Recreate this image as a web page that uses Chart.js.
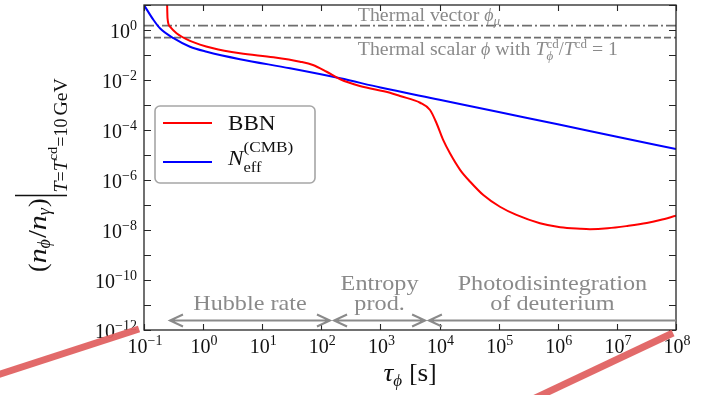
<!DOCTYPE html>
<html><head><meta charset="utf-8">
<script src="https://cdn.jsdelivr.net/npm/chart.js@4.4.1/dist/chart.umd.min.js"></script>
<style>html,body{margin:0;padding:0;background:#fff}#wrap{width:702px;height:395px}</style>
</head><body><div id="wrap"><canvas id="c" width="702" height="395"></canvas></div>
<script>
// Lifetime tau_phi [s] and relic abundance n_phi/n_gamma for the BBN bound
const tauBBN = [0.245, 0.25, 0.275, 0.355, 0.6, 1.48, 4.2, 15.5, 43.6, 72, 123, 209, 447, 1450, 2140, 4700, 6900, 8900, 1.15e4, 1.5e4, 2.24e4, 3.3e4, 5.5e4, 1.05e5, 2.0e5, 5.0e5, 1.1e6, 2.4e6, 3.5e6, 7e6, 1.5e7, 3.2e7, 5.4e7, 1e8];
const ratioBBN = [16, 3.0, 1.35, 0.74, 0.37, 0.186, 0.117, 0.081, 0.054, 0.040, 0.0214, 0.0107, 5.75e-3, 3.1e-3, 2.3e-3, 1.23e-3, 6.3e-4, 1.86e-4, 4.0e-5, 1.17e-5, 2.5e-6, 8.5e-7, 2.5e-7, 8.5e-8, 4.0e-8, 1.86e-8, 1.29e-8, 1.12e-8, 1.08e-8, 1.17e-8, 1.45e-8, 1.9e-8, 2.5e-8, 3.7e-8];
// Same for the CMB N_eff bound
const tauCMB = [0.1, 0.145, 0.186, 0.316, 0.6, 1.15, 4.2, 29.5, 209, 1000, 1e4, 1e5, 1e6, 1e7, 1e8];
const ratioCMB = [10, 2.5, 1.17, 0.47, 0.214, 0.135, 0.068, 0.0295, 0.0117, 5.0e-3, 1.62e-3, 5.2e-4, 1.7e-4, 5.4e-5, 1.74e-5];
// Thermal abundances
const thermalVector = 1.5;
const thermalScalar = 0.5;
// Axis ranges and ticks (exponents of ten)
const xRange = [0.1, 1e8];
const yRange = [1e-12, 10];
const xTickExps = [-1, 0, 1, 2, 3, 4, 5, 6, 7, 8];
const yTickExps = [1, 0, -1, -2, -3, -4, -5, -6, -7, -8, -9, -10, -11, -12];
const yLabelExps = [0, -2, -4, -6, -8, -10, -12];
// Lifetime regimes marked along the bottom
const regimeFrom = [0.275, 164, 6600];
const regimeTo = [140, 5700, 1e8];
const regimeText = [['Hubble rate'], ['Entropy', 'prod.'], ['Photodisintegration', 'of deuterium']];
const regimeRightHead = [true, true, false];
const regimeLevel = 2.4e-12;

const FAM = '"Liberation Serif", "DejaVu Serif", serif';
const GRAY = '#8a8a8a';
const PHI = '\u03D5';

function fontOf(r) { return (r.italic ? 'italic ' : '') + r.size + 'px ' + FAM; }
function runWidth(ctx, r) {
  if (r.stack) return Math.max(...r.stack.map(s => runWidth(ctx, s)));
  if (r.gap !== undefined) return r.gap;
  ctx.font = fontOf(r);
  return ctx.measureText(r.t).width * (r.sx || 1);
}
function drawRun(ctx, r, x, y) {
  if (r.stack) { r.stack.forEach(s => drawRun(ctx, s, x, y)); return; }
  if (r.bar) {
    ctx.save(); ctx.lineWidth = r.lw || 1.4; ctx.strokeStyle = ctx.fillStyle;
    ctx.beginPath(); ctx.moveTo(x + r.gap / 2, y + r.y0); ctx.lineTo(x + r.gap / 2, y + r.y1); ctx.stroke();
    ctx.restore(); return;
  }
  if (r.gap !== undefined) return;
  ctx.save();
  ctx.font = fontOf(r);
  ctx.translate(x, y + (r.dy || 0));
  ctx.scale(r.sx || 1, 1);
  ctx.textAlign = 'left'; ctx.textBaseline = 'alphabetic';
  ctx.fillText(r.t, 0, 0);
  ctx.restore();
}
function drawRuns(ctx, runs, x, y, align) {
  const w = runs.reduce((a, r) => a + runWidth(ctx, r), 0);
  let cx = align === 'center' ? x - w / 2 : align === 'right' ? x - w : x;
  for (const r of runs) { drawRun(ctx, r, cx, y); cx += runWidth(ctx, r); }
  return w;
}
function powerLabel(e) {
  return [{ t: '10', size: 20 }, { t: (e < 0 ? '\u2212' + (-e) : '' + e), size: 14, dy: -8 }];
}

const decorations = {
  id: 'decorations',
  beforeDatasetsDraw(chart) {
    const { ctx } = chart;
    ctx.save();
    ctx.fillStyle = '#fff';
    ctx.fillRect(0, 0, chart.width, chart.height);
    ctx.restore();
  },
  afterDatasetsDraw(chart) {
    const { ctx, chartArea: a, scales: { x, y } } = chart;
    ctx.save();
    // frame
    ctx.strokeStyle = '#262626'; ctx.lineWidth = 1.3;
    ctx.strokeRect(a.left, a.top, a.right - a.left, a.bottom - a.top);
    // inward ticks on all four sides
    ctx.lineWidth = 1.1;
    ctx.beginPath();
    for (const e of xTickExps) {
      const px = Math.round(x.getPixelForValue(Math.pow(10, e))) + 0.5;
      ctx.moveTo(px, a.bottom); ctx.lineTo(px, a.bottom - 6);
      ctx.moveTo(px, a.top); ctx.lineTo(px, a.top + 6);
    }
    for (const e of yTickExps) {
      const py = Math.round(y.getPixelForValue(Math.pow(10, e))) + 0.5;
      ctx.moveTo(a.left, py); ctx.lineTo(a.left + 7, py);
      ctx.moveTo(a.right, py); ctx.lineTo(a.right - 7, py);
    }
    ctx.stroke();
    // tick labels
    ctx.fillStyle = '#111';
    for (const e of xTickExps) {
      drawRuns(ctx, powerLabel(e), x.getPixelForValue(Math.pow(10, e)) + 1, a.bottom + 23, 'center');
    }
    for (const e of yLabelExps) {
      drawRuns(ctx, powerLabel(e), a.left - 7, y.getPixelForValue(Math.pow(10, e)) + 8, 'right');
    }
    // axis titles
    drawRuns(ctx, [
      { t: '\u03C4', size: 25, italic: true, sx: 1.1 },
      { t: PHI, size: 17, italic: true, dy: 5 },
      { gap: 7 },
      { t: '[', size: 25 }, { t: 's', size: 25, sx: 1.1 }, { t: ']', size: 25 }
    ], (a.left + a.right) / 2, 381, 'center');

    ctx.save();
    ctx.translate(46, 272);
    ctx.rotate(-Math.PI / 2);
    drawRuns(ctx, [
      { t: '(', size: 26 },
      { t: 'n', size: 26, italic: true, sx: 1.15 },
      { t: PHI, size: 18, italic: true, dy: 4 },
      { gap: 1 },
      { t: '/', size: 26, sx: 1.1 },
      { t: 'n', size: 26, italic: true, sx: 1.15 },
      { t: '\u03B3', size: 18, italic: true, dy: 4 },
      { gap: 1 },
      { t: ')', size: 26 },
      { bar: true, gap: 6, y0: -31, y1: 21 },
      { t: 'T', size: 18, italic: true, dy: 21, sx: 1.1 },
      { t: '=', size: 18, dy: 21 },
      { t: 'T', size: 18, italic: true, dy: 21, sx: 1.1 },
      { t: 'cd', size: 13, dy: 11, sx: 1.1 },
      { t: '=10', size: 18, dy: 21 },
      { gap: 3 },
      { t: 'GeV', size: 18, dy: 21, sx: 1.1 }
    ], 0, 0, 'left');
    ctx.restore();

    // thermal labels
    ctx.fillStyle = GRAY;
    const tx = x.getPixelForValue(415);
    drawRuns(ctx, [
      { t: 'Thermal vector ', size: 18, sx: 1.1 },
      { t: PHI, size: 18, italic: true },
      { t: '\u03BC', size: 13, italic: true, dy: 4 }
    ], tx, a.top + 16, 'left');
    drawRuns(ctx, [
      { t: 'Thermal scalar ', size: 18, sx: 1.1 },
      { t: PHI, size: 18, italic: true },
      { t: ' with ', size: 18, sx: 1.1 },
      { t: 'T', size: 18, italic: true, sx: 1.1 },
      { stack: [{ t: 'cd', size: 13, dy: -7 }, { t: PHI, size: 13, italic: true, dy: 5 }] },
      { t: '/', size: 18 },
      { t: 'T', size: 18, italic: true, sx: 1.1 },
      { t: 'cd', size: 13, dy: -7 },
      { t: ' = 1', size: 18, sx: 1.1 }
    ], tx, a.top + 50, 'left');

    // lifetime regimes
    ctx.strokeStyle = GRAY; ctx.lineWidth = 2;
    const ay = y.getPixelForValue(regimeLevel);
    for (let i = 0; i < regimeFrom.length; i++) {
      const x0 = x.getPixelForValue(regimeFrom[i]);
      const x1 = x.getPixelForValue(regimeTo[i]);
      ctx.beginPath();
      ctx.moveTo(x0, ay); ctx.lineTo(x1, ay);
      ctx.moveTo(x0 + 13, ay - 6); ctx.lineTo(x0, ay); ctx.lineTo(x0 + 13, ay + 6);
      if (regimeRightHead[i]) { ctx.moveTo(x1 - 13, ay - 6); ctx.lineTo(x1, ay); ctx.lineTo(x1 - 13, ay + 6); }
      ctx.stroke();
      const cx = (x0 + x1) / 2;
      const lines = regimeText[i];
      lines.forEach((s, k) => {
        const by = ay - 10 - (lines.length - 1 - k) * 20;
        drawRuns(ctx, [{ t: s, size: 22, sx: 1.1 }], cx, by, 'center');
      });
    }

    // legend
    const lx = a.left + 11, ly = a.top + 101, lw = 160, lh = 77;
    ctx.beginPath();
    ctx.roundRect(lx, ly, lw, lh, 5);
    ctx.fillStyle = 'rgba(255,255,255,0.85)'; ctx.fill();
    ctx.strokeStyle = '#a6a6a6'; ctx.lineWidth = 1.6; ctx.stroke();
    const ds = chart.data.datasets;
    const rows = [ly + 17, ly + 56];
    [0, 1].forEach(i => {
      ctx.strokeStyle = ds[i].borderColor; ctx.lineWidth = 2;
      ctx.beginPath(); ctx.moveTo(lx + 8, rows[i]); ctx.lineTo(lx + 57, rows[i]); ctx.stroke();
    });
    ctx.fillStyle = '#111';
    drawRuns(ctx, [{ t: ds[0].label, size: 21, sx: 1.1 }], lx + 73, rows[0] + 7, 'left');
    drawRuns(ctx, [
      { t: 'N', size: 21, italic: true, sx: 1.1 },
      { stack: [{ t: '(CMB)', size: 15, dy: -13, sx: 1.15 }, { t: 'eff', size: 15, dy: 7, sx: 1.1 }] }
    ], lx + 73, rows[1] + 3, 'left');
    ctx.restore();
  },
  afterDraw(chart) {
    // accent strokes pointing at the two ends of the lifetime axis
    const { ctx, chartArea: a } = chart;
    ctx.save();
    ctx.strokeStyle = 'rgba(224,98,98,0.95)'; ctx.lineWidth = 7; ctx.lineCap = 'butt';
    ctx.beginPath(); ctx.moveTo(a.left - 5, a.bottom - 1); ctx.lineTo(a.left - 150, a.bottom + 46); ctx.stroke();
    ctx.beginPath(); ctx.moveTo(a.right - 3, a.bottom + 3); ctx.lineTo(a.right - 145, a.bottom + 70); ctx.stroke();
    ctx.restore();
  }
};

const pts = (xs, ys) => xs.map((v, i) => ({ x: v, y: ys[i] }));

new Chart(document.getElementById('c'), {
  type: 'line',
  data: {
    datasets: [
      { label: 'BBN', data: pts(tauBBN, ratioBBN), borderColor: '#ff0000', borderWidth: 2, pointRadius: 0, cubicInterpolationMode: 'monotone', clip: 0, order: 1 },
      { label: 'N_eff (CMB)', data: pts(tauCMB, ratioCMB), borderColor: '#0000ff', borderWidth: 2, pointRadius: 0, cubicInterpolationMode: 'monotone', clip: 0, order: 2 },
      { label: 'Thermal vector', data: pts(xRange, [thermalVector, thermalVector]), borderColor: '#6e6e6e', borderWidth: 1.8, borderDash: [10, 3, 2, 3], pointRadius: 0, clip: 0, order: 3 },
      { label: 'Thermal scalar', data: pts(xRange, [thermalScalar, thermalScalar]), borderColor: '#6e6e6e', borderWidth: 1.8, borderDash: [7, 3], pointRadius: 0, clip: 0, order: 4 }
    ]
  },
  options: {
    responsive: false,
    devicePixelRatio: 1,
    animation: false,
    layout: { padding: { left: 144, top: 5, right: 26, bottom: 65 } },
    plugins: { legend: { display: false }, tooltip: { enabled: false } },
    scales: {
      x: { type: 'logarithmic', min: xRange[0], max: xRange[1], display: false },
      y: { type: 'logarithmic', min: yRange[0], max: yRange[1], display: false }
    }
  },
  plugins: [decorations]
});
</script>
</body></html>
